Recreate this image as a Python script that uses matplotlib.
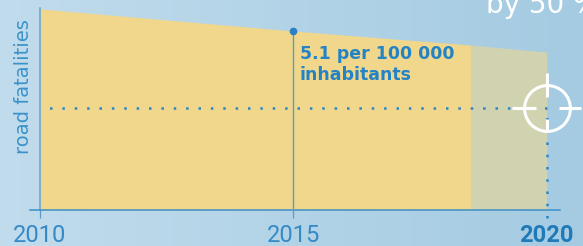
import numpy as np
import matplotlib
matplotlib.use("Agg")
import matplotlib.pyplot as plt
from matplotlib.path import Path

# data (road fatalities per 100 000 inhabitants)
years = [2010, 2015, 2018.5, 2020]
rate = [5.73, 5.1, 4.70, 4.50]
known_until = 2018.5
target_year = 2020
target_value = 2.91
mark_year = 2015
mark_value = 5.1
tick_years = [2010, 2015, 2020]
tick_labels = ["2010", "2015", "2020"]

blue = "#2483c5"
plt.rcParams["lines.scale_dashes"] = False

fig = plt.figure(figsize=(5.83, 2.46), dpi=100)

# background gradient
bg = fig.add_axes([0, 0, 1, 1], zorder=-5)
grad = np.linspace(0, 1, 256).reshape(1, -1)
c0 = np.array([193, 220, 236]) / 255
c1 = np.array([164, 203, 226]) / 255
img = c0[None, None, :] * (1 - grad[..., None]) + c1[None, None, :] * grad[..., None]
bg.imshow(img, aspect="auto", extent=[0, 1, 0, 1])
bg.axis("off")

ax = fig.add_axes([30 / 583, 36 / 246, 530 / 583, 202 / 246])
ax.set_facecolor("none")
ax.set_xlim(2009.803, 2020.263)
ax.set_ylim(0, 5.755)

x = np.array(years)
y = np.array(rate)
known = x <= known_until
ax.fill_between(x[known], y[known], color="#f0d78b", lw=0, zorder=1)
ax.fill_between(x[x >= known_until], y[x >= known_until], color="#d1d3b0", lw=0, zorder=1)

# highlighted value
ax.plot([mark_year, mark_year], [0, mark_value], color="#5b9cc8", lw=1.0, zorder=3)
ax.plot([mark_year], [mark_value], "o", color="#2a80c0", ms=4.5, zorder=4)
ax.annotate("5.1 per 100 000\ninhabitants", xy=(mark_year, mark_value),
            xytext=(4.6, -10), textcoords="offset points", ha="left", va="top",
            fontsize=12.5, fontweight="bold", color=blue, linespacing=1.25,
            family="DejaVu Sans")

# target dotted lines
ax.plot([target_year, years[0]], [target_value, target_value], color="#2a86c6",
        lw=1.8, linestyle=(0, (1.8, 7.11)), dash_capstyle="butt", zorder=3)
ax.plot([target_year, target_year], [-0.225, target_value], color="#2a86c6",
        lw=1.8, linestyle=(0, (1.8, 7.02)), dash_capstyle="butt", zorder=3,
        clip_on=False)

# crosshair
ax.plot([target_year], [target_value], "o", ms=33, mfc="none", mec="white",
        mew=2.2, zorder=6, clip_on=False)
cross = Path([(-35, 0), (-11.5, 0), (11.5, 0), (34, 0),
              (0, 11), (0, 35), (0, -11), (0, -24)],
             [Path.MOVETO, Path.LINETO] * 4)
ax.plot([target_year], [target_value], marker=cross, ms=50.4, mfc="none",
        mec="white", mew=2.2, zorder=6, clip_on=False, linestyle="none")

# axes
for s in ["top", "right"]:
    ax.spines[s].set_visible(False)
ax.spines["left"].set_position(("data", 2010))
ax.spines["left"].set_color("#6aa3c8")
ax.spines["left"].set_linewidth(1.1)
ax.spines["bottom"].set_color("#3a8fca")
ax.spines["bottom"].set_linewidth(1.1)
ax.set_yticks([])
ax.set_xticks(tick_years)
ax.set_xticklabels(tick_labels)
ax.tick_params(axis="x", direction="out", length=5.8, width=0.9,
               color="#5b9cc8", pad=4.3, labelsize=17)
for lab in ax.get_xticklabels():
    lab.set_family("Roboto")
    lab.set_fontweight("normal")
    lab.set_color("#3489c6")
last = ax.get_xticklabels()[-1]
last.set_fontweight("bold")
last.set_color("#1f7ab8")
ax.xaxis.get_major_ticks()[-1].tick1line.set_visible(False)

ax.set_ylabel("road fatalities", fontsize=14, color="#3b93cc", family="DejaVu Sans")
ax.yaxis.set_label_coords(0.0057, 0.611)

fig.text(486.5 / 583, 1 - 13.3 / 246, "by 50 %", color="white", fontsize=20,
         va="baseline", ha="left", family="DejaVu Sans")

fig.savefig("out.png", dpi=100)
